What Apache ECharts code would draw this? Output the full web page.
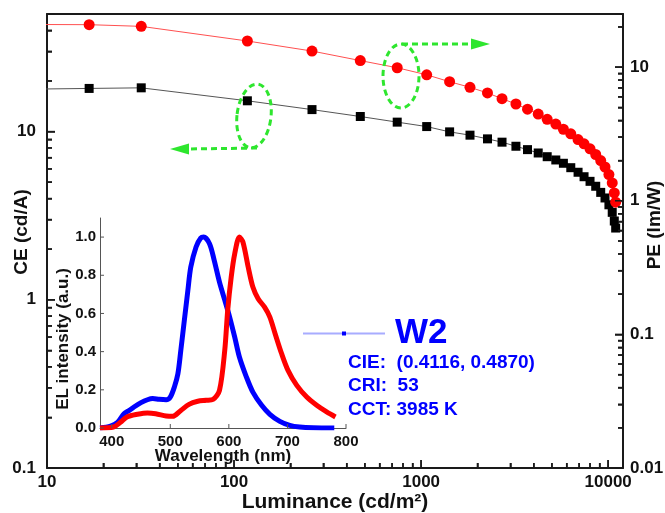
<!DOCTYPE html>
<html>
<head>
<meta charset="utf-8">
<script src="https://cdn.jsdelivr.net/npm/echarts@6/dist/echarts.min.js"></script>
<style>
html,body{margin:0;padding:0;background:#fff;}
#chart{width:665px;height:513px;}
</style>
</head>
<body>
<div id="chart"></div>
<script>
// ---- Main plot data (luminance vs efficiency) ----
var luminance = [6, 16.8, 31.9, 117.8, 261, 473, 745, 1071, 1420, 1825, 2263, 2707, 3212, 3704, 4226, 4720, 5248, 5762, 6310, 6902, 7430, 7998, 8576, 9120, 9616, 10090, 10510, 10780, 10965];
var ceValues = [17.8, 18.05, 18.2, 15.24, 13.51, 12.29, 11.38, 10.71, 9.96, 9.52, 9.05, 8.65, 8.18, 7.81, 7.46, 7.09, 6.78, 6.48, 6.10, 5.73, 5.39, 5.06, 4.73, 4.35, 4.03, 3.67, 3.31, 2.94, 2.67];
var peValues = [20.9, 20.8, 20.2, 15.7, 13.2, 11.2, 9.9, 8.77, 7.78, 7.07, 6.41, 5.81, 5.30, 4.85, 4.46, 4.07, 3.75, 3.43, 3.17, 2.87, 2.67, 2.45, 2.22, 2.0, 1.79, 1.57, 1.36, 1.145, 0.976];

// ---- Inset spectra ----
var blueWl = [380, 398, 410, 421, 430, 438, 450, 461, 470, 481, 493, 500, 507, 513, 518, 524, 530, 535, 544, 552, 557, 567, 575, 584, 593, 601, 610, 618, 630, 641, 656, 670, 687, 704, 721, 744, 780];
var blueI = [0, 0.01, 0.03, 0.075, 0.092, 0.11, 0.133, 0.148, 0.154, 0.15, 0.148, 0.162, 0.215, 0.284, 0.407, 0.564, 0.72, 0.843, 0.948, 0.995, 1.0, 0.965, 0.878, 0.764, 0.67, 0.585, 0.476, 0.372, 0.267, 0.188, 0.119, 0.072, 0.035, 0.014, 0.005, 0.001, 0];
var redWl = [380, 403, 415, 426, 444, 461, 475, 493, 504, 518, 532, 547, 561, 573, 584, 593, 598, 604, 610, 618, 624, 633, 641, 650, 661, 670, 679, 690, 701, 716, 733, 750, 767, 782];
var redI = [0, 0.005, 0.03, 0.058, 0.072, 0.079, 0.075, 0.063, 0.061, 0.092, 0.124, 0.14, 0.145, 0.15, 0.197, 0.407, 0.616, 0.79, 0.913, 1.0, 0.974, 0.843, 0.738, 0.677, 0.633, 0.581, 0.494, 0.39, 0.302, 0.223, 0.162, 0.119, 0.084, 0.058];

// ---- Tick positions ----
var xMajorTicks = [10, 100, 1000, 10000];
var xMinorTicks = [20, 30, 40, 50, 60, 70, 80, 90, 200, 300, 400, 500, 600, 700, 800, 900, 2000, 3000, 4000, 5000, 6000, 7000, 8000, 9000];
var ceMajorTicks = [0.1, 1, 10];
var ceMinorTicks = [0.2, 0.3, 0.4, 0.5, 0.6, 0.7, 0.8, 0.9, 2, 3, 4, 5, 6, 7, 8, 9, 20, 30, 40];
var peMajorTicks = [0.01, 0.1, 1, 10];
var peMinorTicks = [0.02, 0.03, 0.04, 0.05, 0.06, 0.07, 0.08, 0.09, 0.2, 0.3, 0.4, 0.5, 0.6, 0.7, 0.8, 0.9, 2, 3, 4, 5, 6, 7, 8, 9, 20];
var insetXTicks = [400, 500, 600, 700, 800];
var insetYTicks = [0, 0.2, 0.4, 0.6, 0.8, 1.0];

// ---- Texts ----
var xName = 'Luminance (cd/m\u00B2)';
var ceName = 'CE (cd/A)';
var peName = 'PE (lm/W)';
var insetXName = 'Wavelength (nm)';
var insetYName = 'EL intensity (a.u.)';
var legendName = 'W2';
var infoLines = ['CIE:  (0.4116, 0.4870)', 'CRI:  53', 'CCT: 3985 K'];

function zip(a, b) { return a.map(function (v, i) { return [v, b[i]]; }); }

var FONT = 'Liberation Sans, Arial, sans-serif';
var AX = '#1a1a1a';
var GREEN = '#2ee62e';

var X_MIN = 10, X_MAX = 12000, CE_MIN = 0.1, CE_MAX = 50, PE_MIN = 0.01, PE_MAX = 25;
var WL_MIN = 380, WL_MAX = 800;

var chart = echarts.init(document.getElementById('chart'), null, {renderer: 'canvas'});

function plainNum(v) { return String(v); }
function mainLabel(margin) {
  return {show: true, margin: margin, showMaxLabel: false, formatter: plainNum,
    fontFamily: FONT, fontWeight: 'bold', fontSize: 17, color: '#111'};
}

// tick data: [xValue, yValue, isMajor]
function tickData(major, minor, toPoint) {
  return major.map(function (v) { return toPoint(v).concat([1]); })
    .concat(minor.map(function (v) { return toPoint(v).concat([0]); }));
}
// a custom series that draws tick marks through the axis scales
function tickSeries(xi, yi, data, dir, majorLen, minorLen, color, width) {
  return {
    type: 'custom', coordinateSystem: 'cartesian2d', xAxisIndex: xi, yAxisIndex: yi,
    silent: true, clip: false, z: 6, data: data,
    renderItem: function (params, api) {
      var p = api.coord([api.value(0), api.value(1)]);
      var len = api.value(2) ? majorLen : minorLen;
      return {type: 'line',
        shape: {x1: p[0], y1: p[1], x2: p[0] + dir[0] * len, y2: p[1] + dir[1] * len},
        style: {stroke: color, lineWidth: width}};
    }
  };
}

var option = {
  animation: false,
  backgroundColor: '#fff',
  textStyle: {fontFamily: FONT},
  grid: [
    {left: 47, right: 42, top: 14, bottom: 45, outerBoundsMode: 'none'},
    {left: 100, top: 218, width: 246, height: 210, outerBoundsMode: 'none'}
  ],
  legend: {
    left: 297, top: 311, itemWidth: 82, itemHeight: 5,
    data: [legendName],
    selectedMode: false,
    textStyle: {color: '#0000ff', fontSize: 35, fontWeight: 'bold', fontFamily: FONT, padding: [0, 0, 0, 5]}
  },
  xAxis: [
    {
      type: 'log', logBase: 10, min: X_MIN, max: X_MAX, gridIndex: 0, position: 'bottom',
      name: xName, nameLocation: 'middle', nameGap: 24, nameMoveOverlap: false,
      nameTextStyle: {fontFamily: FONT, fontWeight: 'bold', fontSize: 21, color: '#111'},
      axisLine: {show: true, lineStyle: {color: AX, width: 2}},
      axisTick: {show: true, inside: true, length: 8, lineStyle: {color: AX, width: 1.5}},
      minorTick: {show: true, splitNumber: 9, length: 5, lineStyle: {color: AX, width: 1.5}},
      axisLabel: mainLabel(6),
      splitLine: {show: false}, minorSplitLine: {show: false}
    },
    {
      // top frame edge of the main plot
      type: 'log', logBase: 10, min: X_MIN, max: X_MAX, gridIndex: 0, position: 'top',
      axisLine: {show: true, lineStyle: {color: AX, width: 2}},
      axisTick: {show: false}, minorTick: {show: false}, axisLabel: {show: false},
      splitLine: {show: false}
    },
    {
      type: 'value', min: WL_MIN, max: WL_MAX, gridIndex: 1,
      name: insetXName, nameLocation: 'middle', nameGap: 20, nameMoveOverlap: false,
      nameTextStyle: {fontFamily: FONT, fontWeight: 'bold', fontSize: 17, color: '#111'},
      axisLine: {show: true, lineStyle: {color: '#555', width: 1}},
      axisTick: {show: false},
      axisLabel: {margin: 6, fontFamily: FONT, fontWeight: 'bold', fontSize: 15, color: '#111', customValues: insetXTicks},
      splitLine: {show: false}
    }
  ],
  yAxis: [
    {
      type: 'log', logBase: 10, min: CE_MIN, max: CE_MAX, gridIndex: 0, position: 'left',
      name: ceName, nameLocation: 'middle', nameGap: 16, nameRotate: 90, nameMoveOverlap: false,
      nameTextStyle: {fontFamily: FONT, fontWeight: 'bold', fontSize: 19, color: '#111', padding: [0, 0, 0, 18]},
      axisLine: {show: true, lineStyle: {color: AX, width: 2}},
      axisTick: {show: true, inside: true, length: 8, lineStyle: {color: AX, width: 1.5}},
      minorTick: {show: true, splitNumber: 9, length: 5, lineStyle: {color: AX, width: 1.5}},
      axisLabel: mainLabel(11),
      splitLine: {show: false}, minorSplitLine: {show: false}
    },
    {
      type: 'log', logBase: 10, min: PE_MIN, max: PE_MAX, gridIndex: 0, position: 'right',
      name: peName, nameLocation: 'middle', nameGap: 22, nameRotate: 90, nameMoveOverlap: false,
      nameTextStyle: {fontFamily: FONT, fontWeight: 'bold', fontSize: 19, color: '#111', padding: [0, 0, 0, 32]},
      axisLine: {show: true, lineStyle: {color: AX, width: 2}},
      axisTick: {show: true, inside: true, length: 8, lineStyle: {color: AX, width: 1.5}},
      minorTick: {show: true, splitNumber: 9, length: 5, lineStyle: {color: AX, width: 1.5}},
      axisLabel: mainLabel(7),
      splitLine: {show: false}, minorSplitLine: {show: false}
    },
    {
      type: 'value', min: 0, max: 1.1, interval: 0.2, gridIndex: 1,
      name: insetYName, nameLocation: 'middle', nameGap: 28, nameRotate: 90, nameMoveOverlap: false,
      nameTextStyle: {fontFamily: FONT, fontWeight: 'bold', fontSize: 17, color: '#111', padding: [0, 32, 0, 0]},
      axisLine: {show: true, lineStyle: {color: '#555', width: 1}},
      axisTick: {show: false},
      axisLabel: {margin: 4, showMaxLabel: false, fontFamily: FONT, fontWeight: 'bold', fontSize: 15, color: '#111',
        formatter: function (v) { return v.toFixed(1); }},
      splitLine: {show: false}
    }
  ],
  series: [
    {
      name: 'CE', type: 'line', xAxisIndex: 0, yAxisIndex: 0, clip: true,
      data: zip(luminance, ceValues),
      symbol: 'rect', symbolSize: 9, showAllSymbol: true,
      itemStyle: {color: '#000'},
      lineStyle: {color: '#555', width: 1}, z: 3
    },
    {
      name: 'PE', type: 'line', xAxisIndex: 0, yAxisIndex: 1, clip: true,
      data: zip(luminance, peValues),
      symbol: 'circle', symbolSize: 11, showAllSymbol: true,
      itemStyle: {color: '#ff0000'},
      lineStyle: {color: '#ff5050', width: 1}, z: 3
    },
    {
      name: 'EL blue', type: 'line', xAxisIndex: 2, yAxisIndex: 2, clip: true,
      data: zip(blueWl, blueI), symbol: 'none', smooth: 0.3,
      lineStyle: {color: '#0000ff', width: 5}, z: 4
    },
    {
      name: 'EL red', type: 'line', xAxisIndex: 2, yAxisIndex: 2, clip: true,
      data: zip(redWl, redI), symbol: 'none', smooth: 0.3,
      lineStyle: {color: '#ff0000', width: 5}, z: 4
    },
    {
      name: legendName, type: 'line', xAxisIndex: 2, yAxisIndex: 2, data: [],
      symbol: 'rect', itemStyle: {color: '#0000ff'},
      lineStyle: {color: '#a8acff', width: 1.5}
    },
    // tick marks (inward) on the main axes
    tickSeries(0, 0, tickData(xMajorTicks, xMinorTicks, function (v) { return [v, CE_MIN]; }), [0, -1], 8, 5, AX, 1.5),
    tickSeries(0, 0, tickData(ceMajorTicks, ceMinorTicks, function (v) { return [X_MIN, v]; }), [1, 0], 8, 5, AX, 1.5),
    tickSeries(0, 1, tickData(peMajorTicks, peMinorTicks, function (v) { return [X_MAX, v]; }), [-1, 0], 8, 5, AX, 1.5),
    // tick marks on the inset axes
    tickSeries(2, 2, tickData(insetXTicks, [], function (v) { return [v, 0]; }), [0, -1], 4, 4, '#555', 1),
    tickSeries(2, 2, tickData(insetYTicks, [], function (v) { return [WL_MIN, v]; }), [1, 0], 4, 4, '#555', 1)
  ],
  graphic: [
    {type: 'ellipse', shape: {cx: 0, cy: 0, rx: 17, ry: 32}, x: 254, y: 116, rotation: -0.12,
      style: {fill: 'none', stroke: GREEN, lineWidth: 3, lineDash: [6, 4]}, z: 10},
    {type: 'polyline', shape: {points: [[257, 148], [188, 149]]},
      style: {stroke: GREEN, lineWidth: 3, lineDash: [6, 4]}, z: 10},
    {type: 'polygon', shape: {points: [[170, 149], [189, 143.5], [189, 154.5]]},
      style: {fill: GREEN}, z: 10},
    {type: 'ellipse', shape: {cx: 0, cy: 0, rx: 18, ry: 32}, x: 401, y: 76, rotation: 0,
      style: {fill: 'none', stroke: GREEN, lineWidth: 3, lineDash: [6, 4]}, z: 10},
    {type: 'polyline', shape: {points: [[402, 44], [471, 44]]},
      style: {stroke: GREEN, lineWidth: 3, lineDash: [6, 4]}, z: 10},
    {type: 'polygon', shape: {points: [[490, 44], [471, 38.5], [471, 49.5]]},
      style: {fill: GREEN}, z: 10},
    {type: 'text', x: 348, y: 363, style: {text: infoLines[0], fill: '#0000ff', font: 'bold 19px ' + FONT, textVerticalAlign: 'middle'}},
    {type: 'text', x: 348, y: 386, style: {text: infoLines[1], fill: '#0000ff', font: 'bold 19px ' + FONT, textVerticalAlign: 'middle'}},
    {type: 'text', x: 348, y: 410, style: {text: infoLines[2], fill: '#0000ff', font: 'bold 19px ' + FONT, textVerticalAlign: 'middle'}}
  ]
};

chart.setOption(option);
</script>
</body>
</html>
